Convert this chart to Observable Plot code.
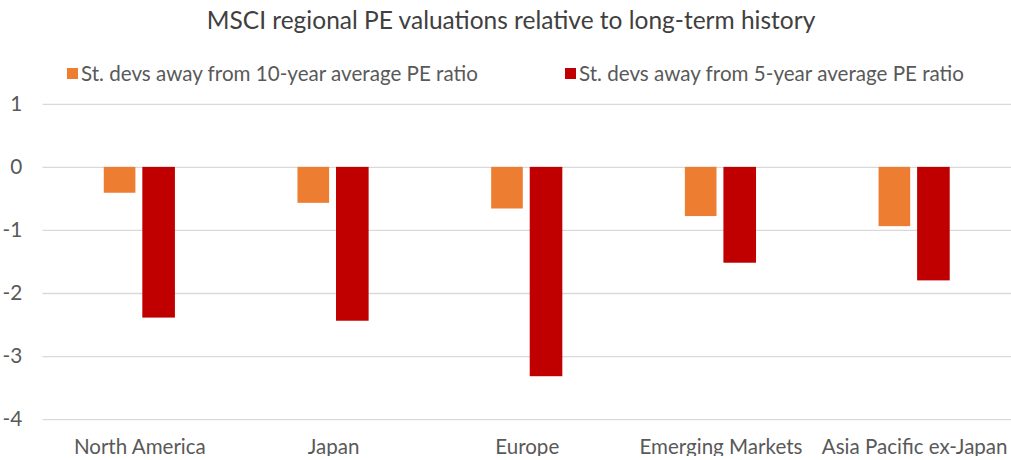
<!DOCTYPE html>
<html>
<head>
<meta charset="utf-8">
<script src="https://cdn.jsdelivr.net/npm/d3@7"></script>
<script src="https://cdn.jsdelivr.net/npm/@observablehq/plot@0.6"></script>
<style>
  html, body { margin: 0; padding: 0; background: #fff; }
  body { width: 1011px; height: 460px; overflow: hidden; position: relative; font-family: Lato, "Open Sans", sans-serif; color: #595959; }
  #title { position: absolute; left: 0; top: 5px; width: 1022px; text-align: center; font-size: 24.5px; line-height: 30px; color: #404040; white-space: nowrap; }
  .leg { position: absolute; top: 60px; height: 26px; font-size: 20.6px; line-height: 26px; white-space: nowrap; display: flex; align-items: center; }
  .sw { display: inline-block; width: 11px; height: 11px; margin-right: 3px; }
  #chart { position: absolute; left: 0; top: 90px; }
</style>
</head>
<body>
<div id="title"></div>
<div id="legend"></div>
<div id="chart"></div>
<script>
const titleText = "MSCI regional PE valuations relative to long-term history";
const categories = ["North America", "Japan", "Europe", "Emerging Markets", "Asia Pacific ex-Japan"];
const seriesNames = ["St. devs away from 10-year average PE ratio", "St. devs away from 5-year average PE ratio"];
const seriesColors = ["#ED7D31", "#C00000"];
const tenYearValues = [-0.41, -0.57, -0.66, -0.78, -0.94];
const fiveYearValues = [-2.39, -2.44, -3.32, -1.52, -1.80];
const yTicks = [1, 0, -1, -2, -3, -4];

document.getElementById("title").textContent = titleText;
const legendLeft = [67, 565];
const legend = document.getElementById("legend");
seriesNames.forEach((name, i) => {
  const item = document.createElement("div");
  item.className = "leg";
  item.style.left = legendLeft[i] + "px";
  const sw = document.createElement("span");
  sw.className = "sw";
  sw.style.background = seriesColors[i];
  item.appendChild(sw);
  item.appendChild(document.createTextNode(name));
  legend.appendChild(item);
});

const tenData = categories.map((c, i) => ({category: c, value: tenYearValues[i]}));
const fiveData = categories.map((c, i) => ({category: c, value: fiveYearValues[i]}));

const chart = Plot.plot({
  width: 1023,
  height: 370,
  marginLeft: 43,
  marginRight: 0,
  marginTop: 14,
  marginBottom: 37,
  style: {fontFamily: "Lato, sans-serif", fontSize: "20.8px", color: "#595959", background: "transparent"},
  x: {domain: categories, padding: 0, label: null},
  y: {domain: [-4, 1], label: null},
  marks: [
    Plot.gridY(yTicks, {stroke: "#d9d9d9", strokeOpacity: 1, strokeWidth: 1.3}),
    Plot.barY(tenData, {x: "category", y: "value", fill: seriesColors[0], insetLeft: 62, insetRight: 102}),
    Plot.barY(fiveData, {x: "category", y: "value", fill: seriesColors[1], insetLeft: 101, insetRight: 62}),
    Plot.axisX({tickSize: 0, tickPadding: 20, label: null, fill: "#595959"}),
    Plot.axisY(yTicks, {tickSize: 0, tickPadding: 21, fontSize: 21, tickFormat: d => String(d), label: null, fill: "#595959"})
  ]
});
document.getElementById("chart").appendChild(chart);
</script>
</body>
</html>
